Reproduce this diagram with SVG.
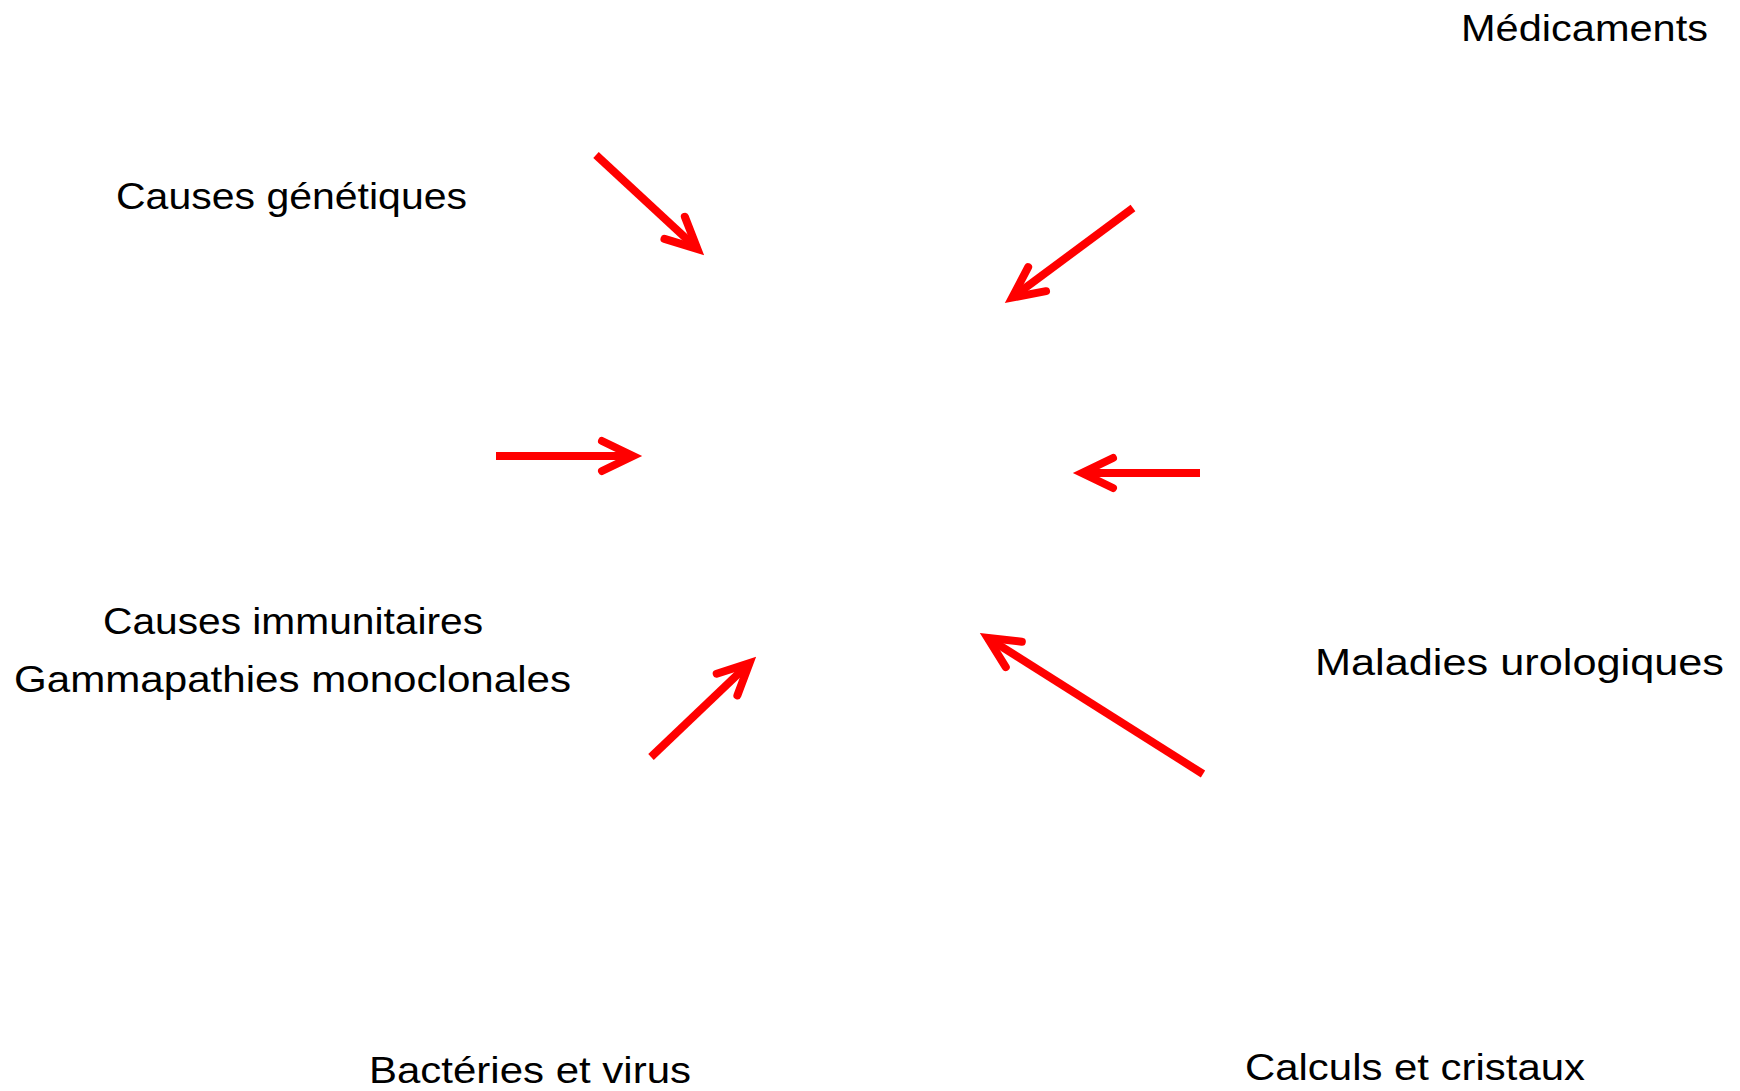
<svg xmlns="http://www.w3.org/2000/svg" width="1740" height="1091" viewBox="0 0 1740 1091">
<style>
.lbl{font-family:"Liberation Sans",Arial,sans-serif;font-size:36px;fill:#000;}
.arr{stroke:#ff0000;stroke-width:8;fill:none;stroke-linecap:butt;}
</style>
<defs>
<marker id="head" markerUnits="userSpaceOnUse" markerWidth="60" markerHeight="60" viewBox="-45 -30 60 60" refX="0" refY="0" orient="auto" overflow="visible">
<path d="M -31 -15 L 0 0 L -31 15" fill="none" stroke="#ff0000" stroke-width="8" stroke-linecap="round" stroke-linejoin="miter" stroke-miterlimit="10"/>
</marker>
</defs>
<rect width="1740" height="1091" fill="#ffffff"/>
<g id="medicaments"><text class="lbl" x="1461" y="41" textLength="247" lengthAdjust="spacingAndGlyphs">Médicaments</text></g>
<g id="causes-genetiques"><text class="lbl" x="116" y="209" textLength="351" lengthAdjust="spacingAndGlyphs">Causes génétiques</text></g>
<g id="causes-immunitaires"><text class="lbl" x="103" y="634" textLength="380" lengthAdjust="spacingAndGlyphs">Causes immunitaires</text>
<text class="lbl" x="14" y="692" textLength="557" lengthAdjust="spacingAndGlyphs">Gammapathies monoclonales</text></g>
<g id="maladies-urologiques"><text class="lbl" x="1315" y="675" textLength="409" lengthAdjust="spacingAndGlyphs">Maladies urologiques</text></g>
<g id="bacteries"><text class="lbl" x="369" y="1083" textLength="322" lengthAdjust="spacingAndGlyphs">Bactéries et virus</text></g>
<g id="calculs"><text class="lbl" x="1245" y="1080" textLength="340" lengthAdjust="spacingAndGlyphs">Calculs et cristaux</text></g>
<g id="connectors">
<line class="arr" x1="596" y1="155" x2="697.4" y2="248.9" marker-end="url(#head)"/>
<line class="arr" x1="1133" y1="208" x2="1012.2" y2="297.6" marker-end="url(#head)"/>
<line class="arr" x1="496" y1="456" x2="633" y2="456" marker-end="url(#head)"/>
<line class="arr" x1="1200" y1="473" x2="1082" y2="473" marker-end="url(#head)"/>
<line class="arr" x1="651" y1="757" x2="749.5" y2="663.2" marker-end="url(#head)"/>
<line class="arr" x1="1203" y1="774" x2="987.6" y2="637.8" marker-end="url(#head)"/>
</g>
</svg>
